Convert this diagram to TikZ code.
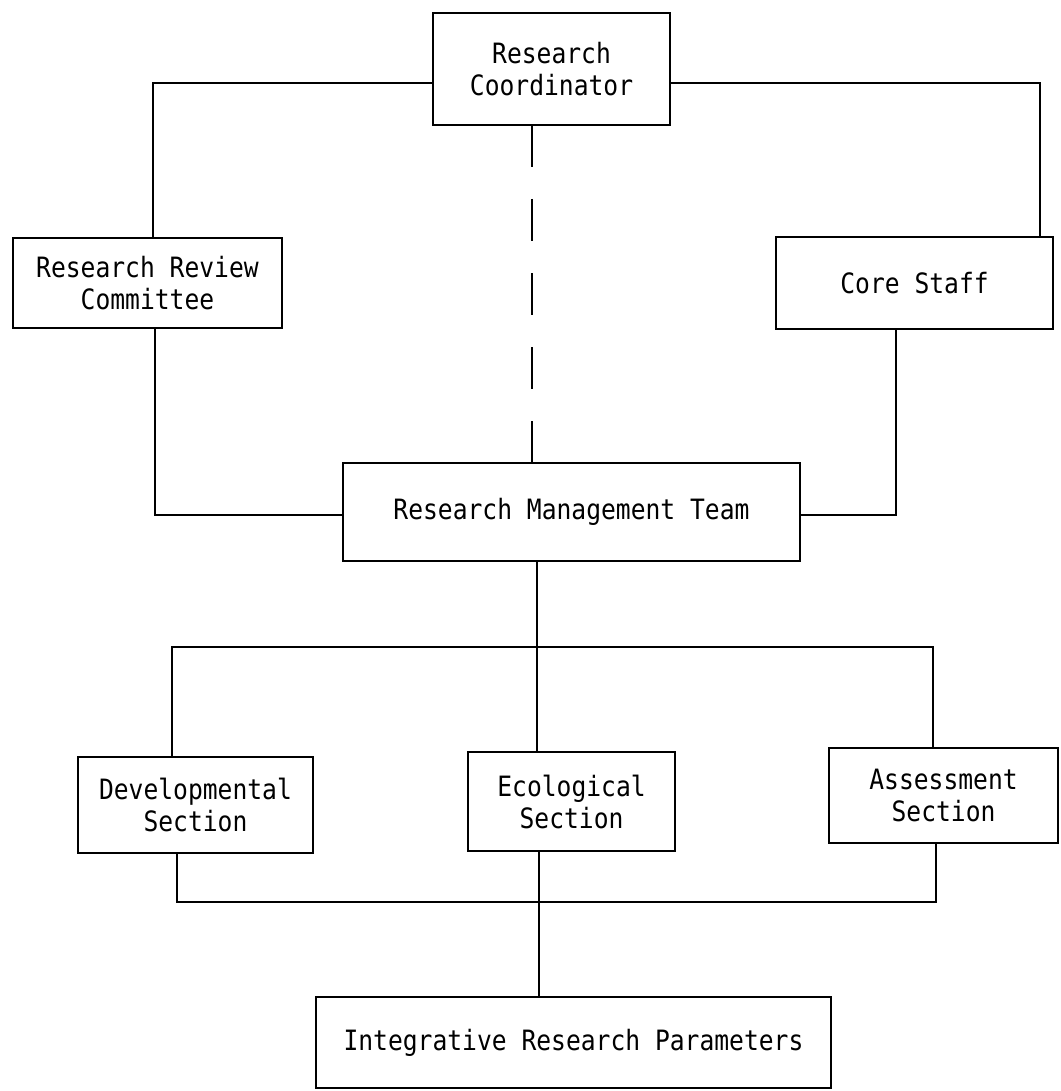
\documentclass[tikz,border=0pt]{standalone}
\usepackage{fontspec}
\newfontfamily\typew[FakeStretch=0.88]{DejaVu Sans Mono}
\begin{document}
\begin{tikzpicture}[x=1pt,y=-1pt,
  box/.style={draw, line width=2pt, inner sep=0pt, outer sep=0pt,
    font=\typew\fontsize{28}{32}\selectfont, align=center},
  conn/.style={line width=2pt},
  dashconn/.style={line width=2pt, dash pattern=on 42pt off 32pt}]
\useasboundingbox (0,0) rectangle (1060,1091);
\fill[white] (0,0) rectangle (1060,1091);

% boxes
\node[box, minimum width=237pt, minimum height=112pt] (rc)  at (551.5,69)   {Research\\Coordinator};
\node[box, minimum width=269pt, minimum height=90pt]  (rrc) at (147.5,283)  {Research Review\\Committee};
\node[box, minimum width=277pt, minimum height=92pt]  (cs)  at (914.5,283)  {Core Staff};
\node[box, minimum width=457pt, minimum height=98pt]  (rmt) at (571.5,512)  {Research Management Team};
\node[box, minimum width=235pt, minimum height=96pt]  (dev) at (195.5,805)  {Developmental\\Section};
\node[box, minimum width=207pt, minimum height=99pt]  (eco) at (571.5,801.5){Ecological\\Section};
\node[box, minimum width=229pt, minimum height=95pt]  (ass) at (943.5,795.5){Assessment\\Section};
\node[box, minimum width=515pt, minimum height=91pt]  (irp) at (573.5,1042.5){Integrative Research Parameters};

% helper coordinates
\coordinate (ytop) at (0,83);
\coordinate (xl) at (153,0);
\coordinate (xr) at (1040,0);
\coordinate (xl2) at (155,0);
\coordinate (xr2) at (896,0);
\coordinate (ymid) at (0,515);
\coordinate (xd) at (532,0);
\coordinate (xm) at (537,0);
\coordinate (xa) at (172,0);
\coordinate (xb) at (933,0);
\coordinate (ybus) at (0,647);
\coordinate (xc) at (177,0);
\coordinate (xd2) at (936,0);
\coordinate (ybus2) at (0,902);
\coordinate (xe) at (539,0);

% connectors
\draw[conn] (rc.west |- ytop) -- (xl |- ytop) -- (xl |- rrc.north);
\draw[conn] (rc.east |- ytop) -- (xr |- ytop) -- (xr |- cs.north);
\draw[conn] (xl2 |- rrc.south) -- (xl2 |- ymid) -- (rmt.west |- ymid);
\draw[conn] (xr2 |- cs.south) -- (xr2 |- ymid) -- (rmt.east |- ymid);
\draw[dashconn] (xd |- rc.south) -- (xd |- rmt.north);
\draw[conn] (xm |- rmt.south) -- (xm |- eco.north);
\draw[conn] (xa |- dev.north) -- (xa |- ybus) -- (xb |- ybus) -- (xb |- ass.north);
\draw[conn] (xc |- dev.south) -- (xc |- ybus2) -- (xd2 |- ybus2) -- (xd2 |- ass.south);
\draw[conn] (xe |- eco.south) -- (xe |- irp.north);
\end{tikzpicture}
\end{document}
